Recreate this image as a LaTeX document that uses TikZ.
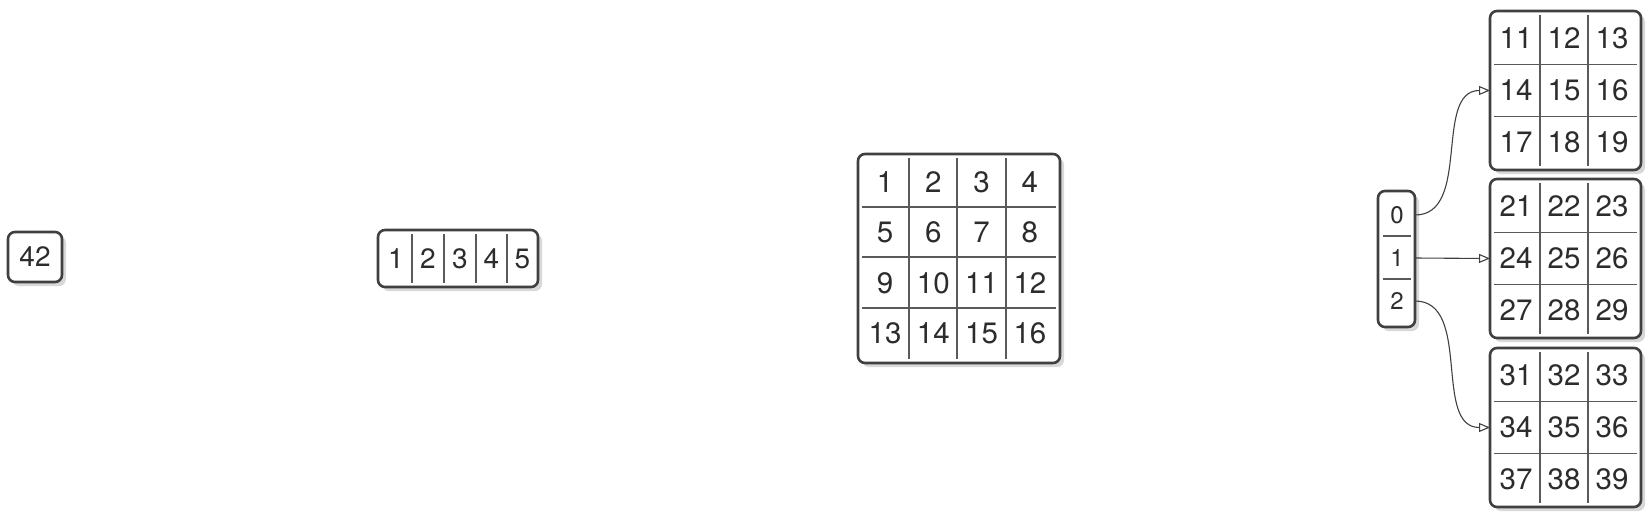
\documentclass[tikz,border=0pt]{standalone}
\usepackage{fontspec}
\setmainfont{TeX Gyre Heros}
\usetikzlibrary{arrows.meta,shadows}
\definecolor{ink}{HTML}{2C2C2C}
\definecolor{framec}{HTML}{404040}
\definecolor{rulec}{HTML}{5A5A5A}
\definecolor{shade}{HTML}{D8D8D8}
\tikzset{
  boxframe/.style={draw=framec, line width=2.6pt, rounded corners=7pt, fill=white,
    inner sep=0pt, outer sep=0pt,
    drop shadow={shadow xshift=4pt, shadow yshift=-4pt, fill=shade, opacity=1}},
  divider/.style={draw=rulec, line width=1.3pt},
  bigdigit/.style={text=ink, inner sep=0pt, font=\fontsize{29.5}{30}\selectfont},
  rowdigit/.style={text=ink, inner sep=0pt, font=\fontsize{28}{28}\selectfont},
  smalldigit/.style={text=ink, inner sep=0pt, font=\fontsize{24}{24}\selectfont},
  link/.style={draw=framec, line width=1.1pt, -{Triangle[open,length=11pt,width=9pt]}},
}
\begin{document}
\begin{tikzpicture}[x=1pt,y=-1pt]
\path[use as bounding box] (0,0) rectangle (1651,520);

% scalar
\node[boxframe, minimum width=54pt, minimum height=50pt] (b42) at (35,257) {};
\node[rowdigit] (t42) at (b42.center) {42};

% vector
\node[boxframe, minimum width=160pt, minimum height=57pt] (row) at (458,258.5) {};
\foreach \x in {412,444,476,507} \draw[divider] (\x,234) -- (\x,283);
\foreach \v/\x in {1/396,2/428,3/460,4/491.5,5/522.5}
  \node[rowdigit] (r\v) at (\x,258.5) {\v};

% matrix
\node[boxframe, minimum width=202pt, minimum height=209pt] (grid) at (959,258.5) {};
\foreach \x in {909,957,1006} \draw[divider] (\x,158) -- (\x,359);
\foreach \y in {207,257,308} \draw[divider] (862,\y) -- (1056,\y);
\foreach \r in {0,...,3} \foreach \c in {0,...,3} {
  \pgfmathtruncatemacro\v{4*\r+\c+1}
  \node[bigdigit] (g\v) at ({885+48.3*\c},{182.5+50.2*\r}) {\v};
}

% index
\node[boxframe, minimum width=37pt, minimum height=136pt] (ix) at (1396.5,259) {};
\foreach \y in {236,279} \draw[divider] (1383,\y) -- (1411,\y);
\node[smalldigit] (i0) at (1397,215) {0};
\node[smalldigit] (i1) at (1397,258) {1};
\node[smalldigit] (i2) at (1397,301) {2};

% three sub-matrices
\foreach \b/\cy/\base in {a/90.5/1, b/258.5/2, c/427.5/3} {
  \node[boxframe, minimum width=151pt, minimum height=159pt] (m\b) at (1565.5,\cy) {};
  \foreach \x in {1540,1588} \draw[divider] (\x,\cy-75.5) -- (\x,\cy+75.5);
  \foreach \dy in {-26,26} \draw[divider] (1494,\cy+\dy) -- (1637,\cy+\dy);
  \foreach \r in {0,1,2} \foreach \c in {0,1,2} {
    \pgfmathtruncatemacro\v{10*\base+3*\r+\c+1}
    \node[bigdigit] (m\b\v) at ({1516+48*\c},{\cy-52+52*\r}) {\v};
  }
}

% links
\draw[link] (ix.east |- i0) to[out=0,in=180] (ma.west);
\draw[link] (ix.east |- i1) -- (mb.west);
\draw[link] (ix.east |- i2) to[out=0,in=180] (mc.west);
\end{tikzpicture}
\end{document}
